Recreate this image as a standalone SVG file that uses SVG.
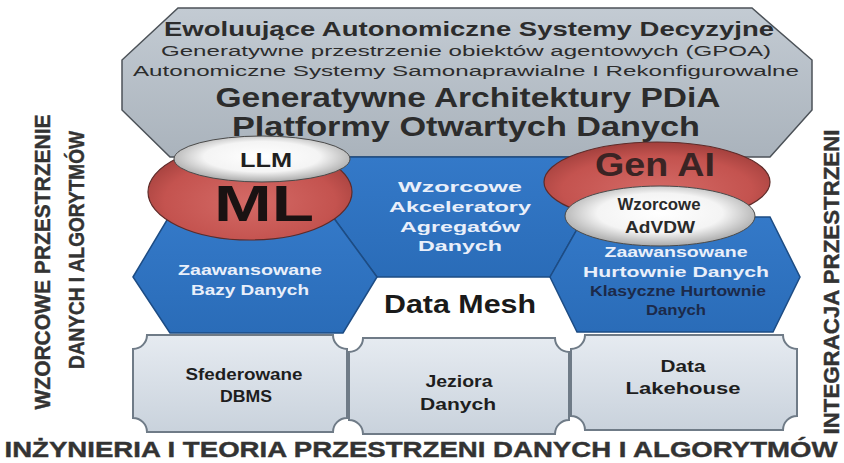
<svg xmlns="http://www.w3.org/2000/svg" width="844" height="463" viewBox="0 0 844 463">
<defs>
<linearGradient id="gGray" x1="0" y1="0" x2="0" y2="1">
<stop offset="0" stop-color="#c3cbd3"/><stop offset="1" stop-color="#aab3bc"/>
</linearGradient>
<linearGradient id="gBlue" x1="0" y1="0" x2="0" y2="1">
<stop offset="0" stop-color="#3479c8"/><stop offset="1" stop-color="#2a6cb8"/>
</linearGradient>
<linearGradient id="gBox" x1="0" y1="0" x2="0" y2="1">
<stop offset="0" stop-color="#e6ebf1"/><stop offset="1" stop-color="#c9d2dc"/>
</linearGradient>
<radialGradient id="gRed" cx="0.5" cy="0.6" r="0.6">
<stop offset="0" stop-color="#d46a66"/><stop offset="0.7" stop-color="#c4534f"/><stop offset="1" stop-color="#a13f3c"/>
</radialGradient>
<radialGradient id="gWhite" cx="0.5" cy="0.45" r="0.55">
<stop offset="0" stop-color="#ffffff"/><stop offset="0.6" stop-color="#f4f4f4"/><stop offset="1" stop-color="#a9a9a9"/>
</radialGradient>
<style>
.oct{fill:url(#gGray);stroke:#4c5258;stroke-width:1.5}
.hex{fill:url(#gBlue);stroke:#1d4c84;stroke-width:1.5}
.box{fill:url(#gBox);stroke:#6f7b87;stroke-width:2}
.red{fill:url(#gRed);stroke:#5e2b29;stroke-width:1.2}
.wht{fill:url(#gWhite);stroke:#4a4a4a;stroke-width:1}
text{font-family:"Liberation Sans",Arial,sans-serif;text-anchor:middle}
.b{font-weight:bold}
.top{fill:#2c2c2c}
.wt{fill:#e9effa;font-weight:bold;font-size:15px}
.dk{fill:#1c2a4a;font-weight:bold;font-size:14px}
.bx{fill:#1e1e1e;font-weight:bold;font-size:16px}
.side{fill:#333333;font-weight:bold;font-size:22px;stroke:#333333;stroke-width:0.4}
</style>
</defs>
<rect width="844" height="463" fill="#ffffff"/>

<g id="top-octagon">
<polygon class="oct" points="178,8 752,8 812,60 812,110 770,157 170,157 122,110 122,60"/>
<text class="top b" x="469" y="36" font-size="20" textLength="610" lengthAdjust="spacingAndGlyphs">Ewoluujące Autonomiczne Systemy Decyzyjne</text>
<text class="top" x="466" y="56" font-size="15.5" textLength="610" lengthAdjust="spacingAndGlyphs">Generatywne przestrzenie obiektów agentowych (GPOA)</text>
<text class="top" x="466" y="76" font-size="15.5" textLength="666" lengthAdjust="spacingAndGlyphs">Autonomiczne Systemy Samonaprawialne I Rekonfigurowalne</text>
<text class="top b" x="468" y="107" font-size="27" textLength="505" lengthAdjust="spacingAndGlyphs">Generatywne Architektury PDiA</text>
<text class="top b" x="466" y="136" font-size="27" textLength="468" lengthAdjust="spacingAndGlyphs">Platformy Otwartych Danych</text>
</g>

<g id="hex-middle">
<polygon class="hex" points="340,157 580,157 584,217 550,277 377,277 333,217"/>
<text class="wt" x="460" y="192" textLength="124" lengthAdjust="spacingAndGlyphs">Wzorcowe</text>
<text class="wt" x="460" y="212" textLength="142" lengthAdjust="spacingAndGlyphs">Akceleratory</text>
<text class="wt" x="460" y="232" textLength="120" lengthAdjust="spacingAndGlyphs">Agregatów</text>
<text class="wt" x="460" y="251" textLength="84" lengthAdjust="spacingAndGlyphs">Danych</text>
</g>

<g id="hex-left">
<polygon class="hex" points="133,277 167,220 333,217 377,277 343,333 170,333"/>
<text class="wt" x="250" y="275" textLength="144" lengthAdjust="spacingAndGlyphs">Zaawansowane</text>
<text class="wt" x="250" y="295" textLength="118" lengthAdjust="spacingAndGlyphs">Bazy Danych</text>
</g>

<g id="hex-right">
<polygon class="hex" points="550,277 584,217 770,217 800,277 773,332 577,332"/>
<text class="wt" x="676" y="257" textLength="143" lengthAdjust="spacingAndGlyphs">Zaawansowane</text>
<text class="wt" x="676" y="277" textLength="186" lengthAdjust="spacingAndGlyphs">Hurtownie Danych</text>
<text class="dk" x="678" y="296" textLength="176" lengthAdjust="spacingAndGlyphs">Klasyczne Hurtownie</text>
<text class="dk" x="676" y="315" textLength="60" lengthAdjust="spacingAndGlyphs">Danych</text>
</g>

<g id="data-mesh">
<text class="b" x="460" y="313" font-size="26" fill="#1a1a1a" textLength="152" lengthAdjust="spacingAndGlyphs">Data Mesh</text>
</g>

<g id="box-sfederowane">
<path class="box" d="M147,335 H333 A14,14 0 0 0 347,349 V418 A14,14 0 0 0 333,432 H147 A14,14 0 0 0 133,418 V349 A14,14 0 0 0 147,335 Z"/>
<text class="bx" x="244" y="380" textLength="117" lengthAdjust="spacingAndGlyphs">Sfederowane</text>
<text class="bx" x="246" y="402" textLength="52" lengthAdjust="spacingAndGlyphs">DBMS</text>
</g>

<g id="box-jeziora">
<path class="box" d="M363,338 H555 A14,14 0 0 0 569,352 V420 A14,14 0 0 0 555,434 H363 A14,14 0 0 0 349,420 V352 A14,14 0 0 0 363,338 Z"/>
<text class="bx" x="459" y="387" textLength="67" lengthAdjust="spacingAndGlyphs">Jeziora</text>
<text class="bx" x="458" y="410" textLength="76" lengthAdjust="spacingAndGlyphs">Danych</text>
</g>

<g id="box-lakehouse">
<path class="box" d="M585,335 H783 A14,14 0 0 0 797,349 V416 A14,14 0 0 0 783,430 H585 A14,14 0 0 0 571,416 V349 A14,14 0 0 0 585,335 Z"/>
<text class="bx" x="683" y="372" textLength="45" lengthAdjust="spacingAndGlyphs">Data</text>
<text class="bx" x="683" y="394" textLength="115" lengthAdjust="spacingAndGlyphs">Lakehouse</text>
</g>

<g id="ring-ml">
<ellipse class="red" cx="250" cy="192" rx="102" ry="48"/>
<ellipse class="wht" cx="262" cy="159" rx="88" ry="23"/>
<text class="b" x="266" y="167" font-size="20" fill="#1f1f1f" textLength="52" lengthAdjust="spacingAndGlyphs">LLM</text>
<text class="b" x="264" y="221" font-size="50" fill="#1a1212" textLength="100" lengthAdjust="spacingAndGlyphs">ML</text>
</g>

<g id="ring-genai">
<ellipse class="red" cx="657" cy="182" rx="113" ry="40"/>
<ellipse class="wht" cx="660" cy="216" rx="95" ry="30"/>
<text class="b" x="655" y="176" font-size="34" fill="#3a2424" textLength="120" lengthAdjust="spacingAndGlyphs">Gen AI</text>
<text class="b" x="659" y="210" font-size="17" fill="#2a2a2a" textLength="83" lengthAdjust="spacingAndGlyphs">Wzorcowe</text>
<text class="b" x="660" y="233" font-size="17" fill="#2a2a2a" textLength="70" lengthAdjust="spacingAndGlyphs">AdVDW</text>
</g>

<g id="labels">
<text class="side" transform="translate(50,262) rotate(-90)" textLength="295" lengthAdjust="spacingAndGlyphs">WZORCOWE PRZESTRZENIE</text>
<text class="side" transform="translate(84,250) rotate(-90)" textLength="238" lengthAdjust="spacingAndGlyphs">DANYCH I ALGORYTMÓW</text>
<text class="side" transform="translate(839,282) rotate(-90)" font-size="19" textLength="305" lengthAdjust="spacingAndGlyphs">INTEGRACJA PRZESTRZENI</text>
<text class="side" x="421" y="457" font-size="20" stroke-width="0.2" textLength="833" lengthAdjust="spacingAndGlyphs">INŻYNIERIA I TEORIA PRZESTRZENI DANYCH I ALGORYTMÓW</text>
</g>
</svg>
